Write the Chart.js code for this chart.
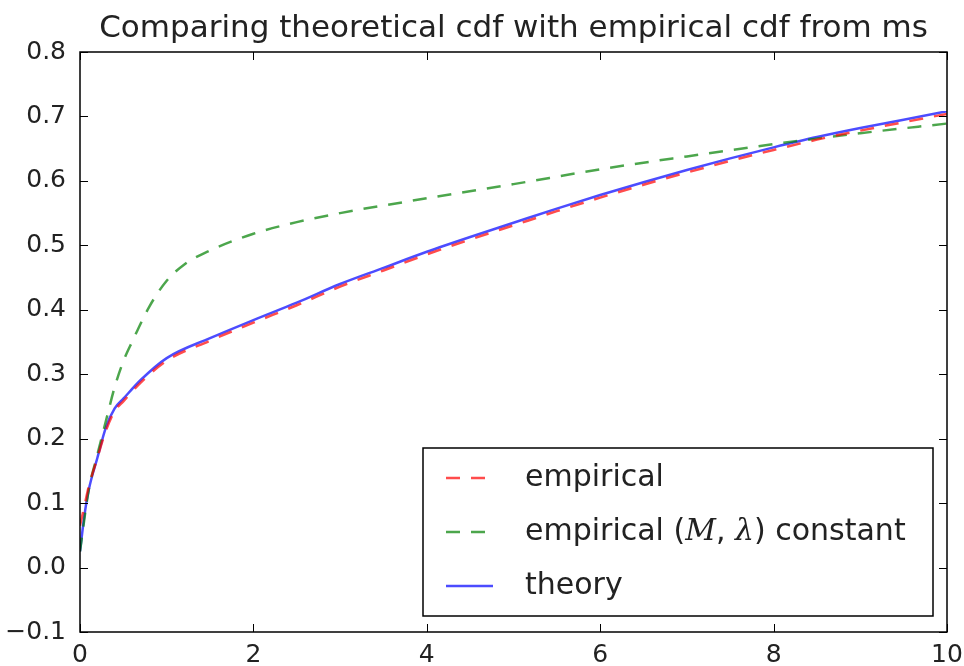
<!DOCTYPE html>
<html>
<head>
<meta charset="utf-8">
<script src="https://cdn.jsdelivr.net/npm/chart.js@4"></script>
<style>
  body { margin: 0; background: #fff; }
  canvas { display: block; }
</style>
</head>
<body>
<canvas id="cdfChart" width="964" height="666"></canvas>
<script>
// Sample points
const xs = [0, 0.05, 0.1, 0.2, 0.3, 0.4, 0.5, 0.7, 1.0, 1.5, 2, 2.5, 3, 3.5, 4, 4.5, 5, 5.5, 6, 6.5, 7, 7.5, 8, 8.5, 9, 9.5, 10];
const theory = [0.025, 0.08, 0.12, 0.17, 0.218, 0.247, 0.262, 0.291, 0.325, 0.356, 0.384, 0.411, 0.44, 0.465, 0.49, 0.513, 0.535, 0.557, 0.578, 0.598, 0.617, 0.635, 0.652, 0.668, 0.682, 0.695, 0.708];
const empirical = [0.065, 0.095, 0.125, 0.17, 0.213, 0.243, 0.258, 0.287, 0.321, 0.352, 0.38, 0.407, 0.436, 0.461, 0.486, 0.509, 0.531, 0.553, 0.574, 0.594, 0.613, 0.631, 0.648, 0.664, 0.678, 0.691, 0.704];

const xsConst = [0, 0.1, 0.2, 0.3, 0.4, 0.5, 0.6, 0.8, 1.0, 1.2, 1.5, 2, 2.5, 3, 4, 5, 6, 7, 8, 9, 10];
const constant = [0.025, 0.12, 0.175, 0.228, 0.28, 0.32, 0.35, 0.405, 0.445, 0.47, 0.492, 0.518, 0.536, 0.55, 0.573, 0.595, 0.618, 0.638, 0.657, 0.674, 0.689];

const xTicks = [0, 2, 4, 6, 8, 10];
const yTicks = [-0.1, 0, 0.1, 0.2, 0.3, 0.4, 0.5, 0.6, 0.7, 0.8];

const toPoints = (x, y) => x.map((v, i) => ({ x: v, y: y[i] }));

const RED = 'rgba(255,0,0,0.7)';
const GREEN = 'rgba(0,128,0,0.7)';
const BLUE = 'rgba(0,0,255,0.7)';
const DASH = [14, 11];

// frame, inward ticks, title and legend the matplotlib way
const decorations = {
  id: 'decorations',
  afterDraw(chart) {
    const ctx = chart.ctx;
    const a = chart.chartArea;
    const xs_ = chart.scales.x, ys_ = chart.scales.y;
    ctx.save();
    ctx.strokeStyle = '#000';
    ctx.lineWidth = 1.5;
    ctx.strokeRect(a.left, a.top, a.right - a.left, a.bottom - a.top);

    ctx.lineWidth = 1;
    const tl = 8;
    ctx.beginPath();
    xTicks.forEach(v => {
      const px = Math.round(xs_.getPixelForValue(v)) + 0.5;
      ctx.moveTo(px, a.bottom); ctx.lineTo(px, a.bottom - tl);
      ctx.moveTo(px, a.top); ctx.lineTo(px, a.top + tl);
    });
    yTicks.forEach(v => {
      const py = Math.round(ys_.getPixelForValue(v)) + 0.5;
      ctx.moveTo(a.left, py); ctx.lineTo(a.left + tl, py);
      ctx.moveTo(a.right, py); ctx.lineTo(a.right - tl, py);
    });
    ctx.stroke();

    // title
    ctx.fillStyle = '#222';
    ctx.font = '31px "DejaVu Sans"';
    ctx.textAlign = 'center';
    ctx.textBaseline = 'alphabetic';
    ctx.fillText('Comparing theoretical cdf with empirical cdf from ms', (a.left + a.right) / 2, 37);

    // legend
    const bx = 423, by = 448, bw = 510, bh = 168;
    ctx.fillStyle = '#fff';
    ctx.fillRect(bx, by, bw, bh);
    ctx.lineWidth = 1.5;
    ctx.strokeStyle = '#000';
    ctx.strokeRect(bx, by, bw, bh);

    const rows = [
      { color: RED, dash: DASH, y: 478 },
      { color: GREEN, dash: DASH, y: 532 },
      { color: BLUE, dash: [], y: 586 }
    ];
    rows.forEach(r => {
      ctx.beginPath();
      ctx.strokeStyle = r.color;
      ctx.lineWidth = 2.5;
      ctx.setLineDash(r.dash);
      ctx.moveTo(446, r.y); ctx.lineTo(493, r.y);
      ctx.stroke();
    });
    ctx.setLineDash([]);

    ctx.fillStyle = '#222';
    ctx.textAlign = 'left';
    ctx.textBaseline = 'middle';
    const tx = 525;
    const normal = '30px "DejaVu Sans"';
    const italic = 'italic 30px "DejaVu Serif"';
    ctx.font = normal;
    ctx.fillText('empirical', tx, 478);
    ctx.fillText('theory', tx, 586);

    const parts = [
      ['empirical (', normal], ['M', italic], [', ', normal], ['\u03bb', italic], [') constant', normal]
    ];
    let cx = tx;
    parts.forEach(([t, f]) => {
      ctx.font = f;
      ctx.fillText(t, cx, 532);
      cx += ctx.measureText(t).width;
    });
    ctx.restore();
  }
};

const ctx = document.getElementById('cdfChart').getContext('2d');
const cdfChart = new Chart(ctx, {
  type: 'line',
  data: {
    datasets: [
      {
        label: 'empirical',
        data: toPoints(xs, empirical),
        borderColor: RED,
        borderDash: DASH,
        borderWidth: 2.5,
        pointRadius: 0,
        cubicInterpolationMode: 'monotone'
      },
      {
        label: 'empirical (M, \u03bb) constant',
        data: toPoints(xsConst, constant),
        borderColor: GREEN,
        borderDash: DASH,
        borderWidth: 2.5,
        pointRadius: 0,
        cubicInterpolationMode: 'monotone'
      },
      {
        label: 'theory',
        data: toPoints(xs, theory),
        borderColor: BLUE,
        borderWidth: 2.5,
        pointRadius: 0,
        cubicInterpolationMode: 'monotone'
      }
    ]
  },
  options: {
    responsive: false,
    animation: false,
    layout: { padding: { left: 0, right: 17, top: 52, bottom: 0 } },
    plugins: { legend: { display: false }, tooltip: { enabled: false } },
    scales: {
      x: {
        type: 'linear',
        min: 0, max: 10,
        afterFit: s => { s.height = 34; },
        afterBuildTicks: s => { s.ticks = xTicks.map(v => ({ value: v })); },
        grid: { display: false },
        border: { display: false },
        ticks: { color: '#222', padding: 0, font: { family: 'DejaVu Sans', size: 25 }, maxRotation: 0 }
      },
      y: {
        min: -0.1, max: 0.8,
        afterFit: s => { s.width = 80; },
        afterBuildTicks: s => { s.ticks = yTicks.map(v => ({ value: v })); },
        grid: { display: false },
        border: { display: false },
        ticks: {
          color: '#222',
          padding: 6,
          font: { family: 'DejaVu Sans', size: 25 },
          callback: v => v.toFixed(1).replace('-', '\u2212')
        }
      }
    }
  },
  plugins: [decorations]
});
</script>
</body>
</html>
